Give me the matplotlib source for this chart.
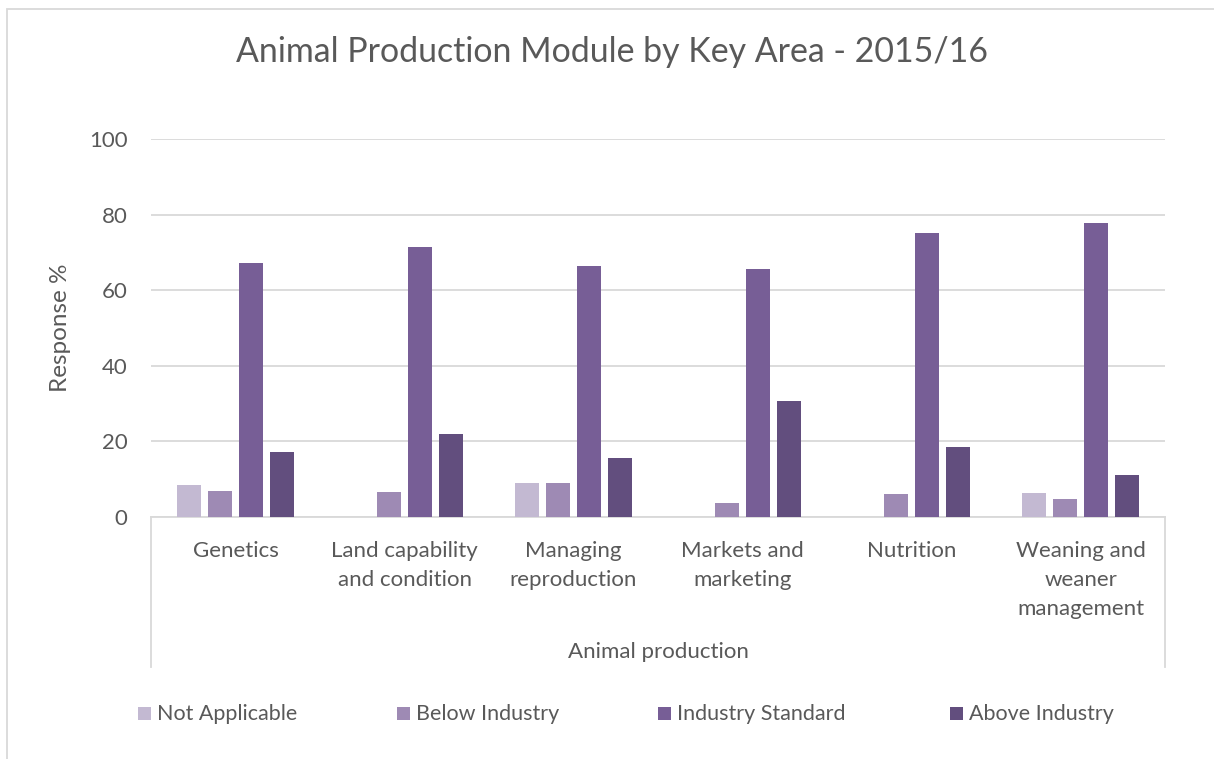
import numpy as np
import matplotlib.pyplot as plt
from matplotlib.patches import Rectangle
from matplotlib.lines import Line2D

plt.rcParams['font.family'] = ['Lato', 'DejaVu Sans']

# data
categories = ['Genetics', 'Land capability\nand condition', 'Managing\nreproduction',
              'Markets and\nmarketing', 'Nutrition', 'Weaning and\nweaner\nmanagement']
series = ['Not Applicable', 'Below Industry', 'Industry Standard', 'Above Industry']
not_applicable = [8.5, 0, 8.9, 0, 0, 6.3]
below_industry = [7.0, 6.6, 8.9, 3.8, 6.1, 4.8]
industry_standard = [67.2, 71.4, 66.5, 65.5, 75.1, 77.8]
above_industry = [17.1, 22.0, 15.7, 30.7, 18.5, 11.0]
values = [not_applicable, below_industry, industry_standard, above_industry]
colors = ['#C3B9D2', '#9E8AB4', '#775E96', '#624E7E']
yticks = [0, 20, 40, 60, 80, 100]

text_col = '#595959'
grid_col = '#D9D9D9'
fs = 16

fig = plt.figure(figsize=(12.14, 7.59), dpi=100)
ax = fig.add_axes([0.1244, 0.3188, 0.8353, 0.4980])

x = np.arange(len(categories))
pitch = 0.182
width = 0.142
for i, (name, vals, c) in enumerate(zip(series, values, colors)):
    ax.bar(x + (i - 1.5) * pitch, vals, width, color=c, label=name, zorder=3)

ax.set_xlim(-0.5, len(categories) - 0.5)
ax.set_ylim(0, 100)
ax.set_yticks(yticks)
ax.yaxis.grid(True, color=grid_col, linewidth=1.3, zorder=0)
ax.tick_params(axis='y', length=0, labelsize=fs, labelcolor=text_col, pad=17)
ax.set_xticks(x)
ax.set_xticklabels(categories, fontsize=fs, color=text_col, linespacing=1.58)
ax.tick_params(axis='x', length=0, pad=17)
for s in ['top', 'right', 'left']:
    ax.spines[s].set_visible(False)
ax.spines['bottom'].set_color(grid_col)
ax.spines['bottom'].set_linewidth(1.3)

ax.set_ylabel('Response %', fontsize=17.5, color=text_col, labelpad=13)

# multi-level category box
for xf in [151 / 1214, 1165 / 1214]:
    fig.add_artist(Line2D([xf, xf], [1 - 517 / 759, 1 - 667 / 759],
                          color=grid_col, linewidth=1.3))
fig.text(658 / 1214, 1 - 652 / 759, 'Animal production', fontsize=fs,
         color=text_col, ha='center', va='center')

fig.text(612 / 1214, 1 - 52 / 759, 'Animal Production Module by Key Area - 2015/16',
         fontsize=24.4, color=text_col, ha='center', va='center')

# legend
leg_x = [138, 397, 658, 950]
for lx, name, c in zip(leg_x, series, colors):
    fig.add_artist(Rectangle((lx / 1214, 1 - 720 / 759), 13 / 1214, 13 / 759,
                             facecolor=c, edgecolor='none'))
    fig.text((lx + 19) / 1214, 1 - 714 / 759, name, fontsize=15.5,
             color=text_col, ha='left', va='center')

# chart border
fig.add_artist(Rectangle((7 / 1214, -0.1), 1.2, 1 - 9 / 759 + 0.1, fill=False,
                         edgecolor=grid_col, linewidth=1.3))

fig.savefig('out.png', dpi=100)
